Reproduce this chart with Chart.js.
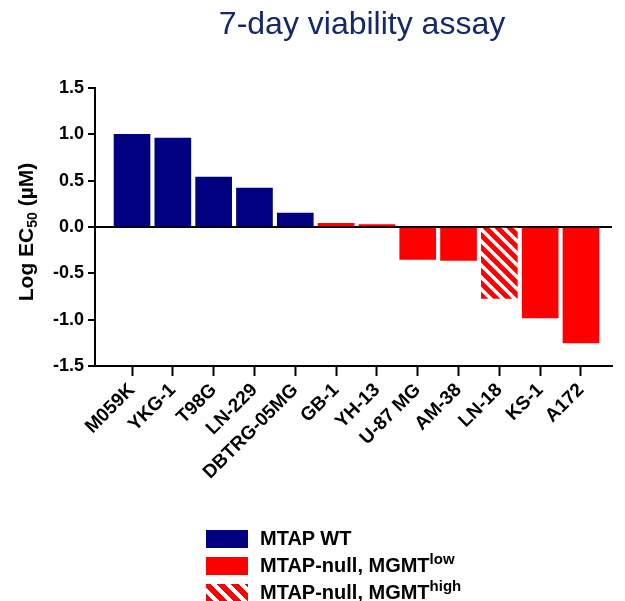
<!DOCTYPE html>
<html>
<head>
<meta charset="utf-8">
<script src="https://cdn.jsdelivr.net/npm/chart.js@4.4.1/dist/chart.umd.min.js"></script>
<style>
  body { margin: 0; background: #fff; font-family: "Liberation Sans", Arial, sans-serif; }
  #wrap { position: relative; width: 625px; height: 601px; overflow: hidden; }
  #title { position: absolute; top: 5px; left: 112px; width: 500px; text-align: center;
           font-size: 32px; color: #14286b; }
  #legend { position: absolute; left: 206px; top: 525px; font-weight: bold; font-size: 20px; color: #000; }
  .row { height: 27px; display: flex; align-items: center; }
  .sw { width: 42px; height: 18px; margin-right: 12px; }
  .row sup { font-size: 15px; position: relative; top: -7px; vertical-align: baseline; line-height: 0; }
</style>
</head>
<body>
<div id="wrap">
  <canvas id="chart" width="625" height="601"></canvas>
  <div id="title">7-day viability assay</div>
  <div id="legend">
    <div class="row"><div class="sw" style="background:#000080"></div>MTAP WT</div>
    <div class="row"><div class="sw" style="background:#ff0000"></div>MTAP-null, MGMT<sup>low</sup></div>
    <div class="row"><div class="sw" style="background:repeating-linear-gradient(45deg,#ff0000 0 6px,#ffffff 6px 10px)"></div>MTAP-null, MGMT<sup>high</sup></div>
  </div>
</div>
<script>
// cell lines and their log EC50 values
const cellLines = ['M059K', 'YKG-1', 'T98G', 'LN-229', 'DBTRG-05MG', 'GB-1', 'YH-13', 'U-87 MG', 'AM-38', 'LN-18', 'KS-1', 'A172'];
const logEC50 = [1.0, 0.96, 0.54, 0.42, 0.15, 0.04, 0.025, -0.35, -0.36, -0.77, -0.98, -1.25];
const groups = ['wt', 'wt', 'wt', 'wt', 'wt', 'low', 'low', 'low', 'low', 'high', 'low', 'low'];
const yTicks = [-1.5, -1.0, -0.5, 0.0, 0.5, 1.0, 1.5];

// red with white diagonal stripes for the MGMT high bar
function makeHatch() {
    const c = document.createElement('canvas');
    c.width = 12; c.height = 12;
    const g = c.getContext('2d');
    g.fillStyle = '#ff0000';
    g.fillRect(0, 0, 12, 12);
    g.strokeStyle = '#ffffff';
    g.lineWidth = 3.5;
    g.beginPath();
    g.moveTo(-3, -3); g.lineTo(15, 15);
    g.moveTo(-15, -3); g.lineTo(3, 15);
    g.moveTo(9, -3); g.lineTo(27, 15);
    g.stroke();
    return g.createPattern(c, 'repeat');
}

const ctx = document.getElementById('chart').getContext('2d');
const hatch = makeHatch();
const colors = groups.map(g => g === 'wt' ? '#000080' : (g === 'high' ? hatch : '#ff0000'));

// y-axis title with a subscript
const yTitlePlugin = {
    id: 'yTitle',
    afterDraw(chart) {
        const c = chart.ctx;
        c.save();
        c.translate(27, 232);
        c.rotate(-Math.PI / 2);
        c.fillStyle = '#000';
        c.textBaseline = 'middle';
        const big = 'bold 21px "Liberation Sans", Arial, sans-serif';
        const small = 'bold 14px "Liberation Sans", Arial, sans-serif';
        const parts = [['Log EC', big, 0], ['50', small, 6], [' (\u00b5M)', big, 0]];
        let total = 0;
        parts.forEach(p => { c.font = p[1]; total += c.measureText(p[0]).width; });
        let x = -total / 2;
        parts.forEach(p => {
            c.font = p[1];
            c.fillText(p[0], x, p[2]);
            x += c.measureText(p[0]).width;
        });
        c.restore();
    }
};

new Chart(ctx, {
    type: 'bar',
    data: {
        datasets: [{
            data: logEC50.map((v, i) => ({ x: i, y: v })),
            backgroundColor: colors,
            barThickness: 36
        }]
    },
    options: {
        responsive: false,
        animation: false,
        layout: { padding: { left: 0, right: 13, top: 88, bottom: 0 } },
        plugins: { legend: { display: false }, tooltip: { enabled: false } },
        scales: {
            x: {
                type: 'linear',
                offset: false,
                min: -0.907,
                max: 11.76,
                afterBuildTicks: scale => { scale.ticks = cellLines.map((_, i) => ({ value: i })); },
                afterFit: scale => { scale.height = 601 - 366; },
                ticks: {
                    callback: v => cellLines[v],
                    minRotation: 45,
                    maxRotation: 45,
                    autoSkip: false,
                    padding: 3,
                    color: '#000',
                    font: { family: '"Liberation Sans", Arial, sans-serif', size: 19, weight: 'bold' }
                },
                grid: { offset: false, drawOnChartArea: false, drawTicks: true, tickLength: 10, tickColor: '#000', tickWidth: 2 },
                border: { color: '#000', width: 2 }
            },
            y: {
                min: -1.5,
                max: 1.5,
                afterBuildTicks: scale => { scale.ticks = yTicks.map(v => ({ value: v })); },
                afterFit: scale => { scale.width = 95; },
                ticks: {
                    callback: v => v.toFixed(1),
                    padding: 4,
                    color: '#000',
                    font: { family: '"Liberation Sans", Arial, sans-serif', size: 18, weight: 'bold' }
                },
                grid: {
                    color: c => c.tick && c.tick.value === 0 ? '#000' : 'rgba(0,0,0,0)',
                    lineWidth: 2,
                    tickLength: 7,
                    tickColor: '#000',
                    tickWidth: 2
                },
                border: { color: '#000', width: 2 }
            }
        }
    },
    plugins: [yTitlePlugin]
});
</script>
</body>
</html>
